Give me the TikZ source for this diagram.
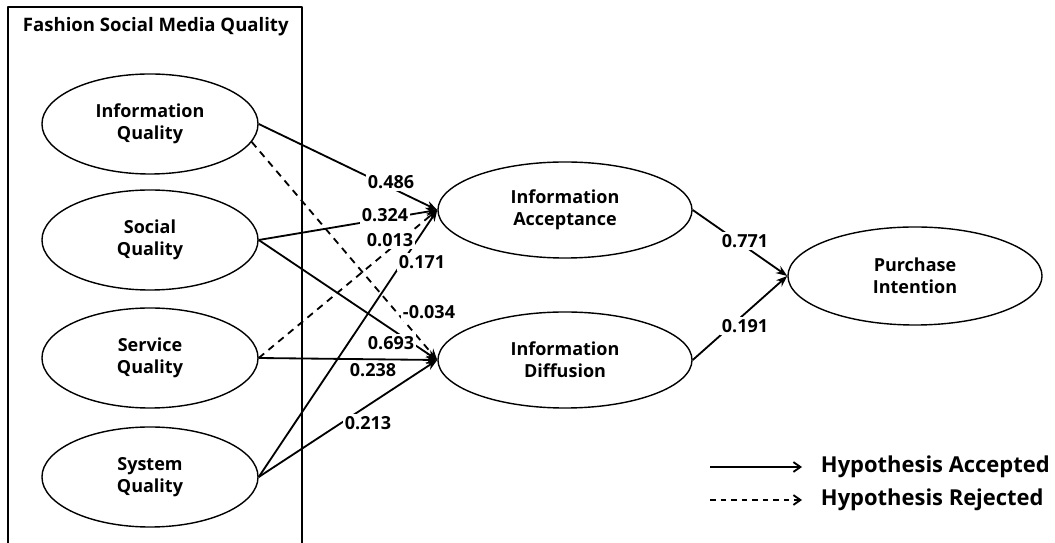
\documentclass[tikz,border=0pt]{standalone}
\usepackage{fontspec}
\setmainfont{Open Sans}
\usetikzlibrary{arrows.meta,shapes.geometric}

\begin{document}
\begin{tikzpicture}[x=0.025cm, y=-0.025cm, >=Stealth, line join=round,
  construct/.style={ellipse, draw, line width=1pt, align=center, inner sep=0pt,
    minimum width=5.4cm, minimum height=2.5cm, font=\bfseries\fontsize{12.8}{15.5}\selectfont},
  mediator/.style={construct, minimum width=6.35cm, minimum height=2.4cm},
  coef/.style={fill=white, inner sep=1.5pt, font=\bfseries\fontsize{12.8}{15.5}\selectfont},
  accepted/.style={line width=1.3pt, -{Stealth[length=8pt,width=6pt]}},
  rejected/.style={accepted, dash pattern=on 5pt off 4pt}]
  \useasboundingbox (0,0) rectangle (1055,543);
  % quality block
  \draw[line width=1.1pt] (8,550) -- (8,7) -- (302,7) -- (302,550);
  \node[anchor=west, font=\bfseries\fontsize{13.2}{16}\selectfont] (title) at (18,27) {Fashion Social Media Quality};
  \node[construct] (iq) at (150,124) {Information\\Quality};
  \node[construct] (sq) at (150,240) {Social\\Quality};
  \node[construct] (svq) at (150,358) {Service\\Quality};
  \node[construct] (syq) at (150,477) {System\\Quality};
  \node[mediator] (ia) at (565,210) {Information\\Acceptance};
  \node[mediator] (id) at (565,360) {Information\\Diffusion};
  \node[mediator, minimum height=2.45cm] (pi) at (915,276) {Purchase\\Intention};
  % paths
  \draw[accepted] (iq.east) -- (ia.west);
  \draw[accepted] (sq.east) -- (ia.west);
  \draw[rejected] (svq.east) -- (ia.west);
  \draw[accepted] (syq.east) -- (ia.west);
  \draw[rejected] (iq.-10) -- (id.west);
  \draw[accepted] (sq.east) -- (id.west);
  \draw[accepted] (svq.east) -- (id.west);
  \draw[accepted] (syq.east) -- (id.west);
  \draw[accepted] (ia.east) -- (pi.west);
  \draw[accepted] (id.east) -- (pi.west);
  % coefficients
  \node[coef] (c1) at (391,182) {0.486};
  \node[coef] (c2) at (385,215) {0.324};
  \node[coef] (c3) at (390,240) {0.013};
  \node[coef] (c4) at (422,262) {0.171};
  \node[coef] (c5) at (429,312) {-0.034};
  \node[coef] (c6) at (391,343) {0.693};
  \node[coef] (c7) at (373,370) {0.238};
  \node[coef] (c8) at (368,423) {0.213};
  \node[coef] (c9) at (745,241) {0.771};
  \node[coef] (c10) at (745,326) {0.191};
  % legend
  \coordinate (acc0) at (710,467);
  \coordinate (acc1) at (802,467);
  \coordinate (rej0) at (710,500);
  \coordinate (rej1) at (802,500);
  \draw[line width=1.3pt, -{Straight Barb[length=5pt,width=7pt]}] (acc0) -- (acc1);
  \draw[line width=1.3pt, dash pattern=on 4pt off 3.5pt, -{Straight Barb[length=5pt,width=7pt]}] (rej0) -- (rej1);
  \node[anchor=west, font=\bfseries\fontsize{15.6}{18}\selectfont] (acc) at (816,467) {Hypothesis Accepted};
  \node[anchor=west, font=\bfseries\fontsize{15.6}{18}\selectfont] (rej) at (816,500) {Hypothesis Rejected};
\end{tikzpicture}
\end{document}
